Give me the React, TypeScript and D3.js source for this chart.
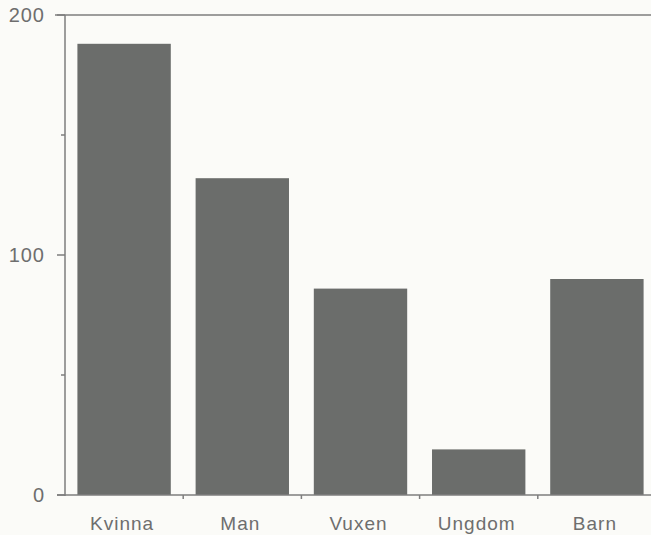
import React from "react";
import * as d3 from "d3";

const categories = ["Kvinna", "Man", "Vuxen", "Ungdom", "Barn"];
const values = [188, 132, 86, 19, 90];
const majorTicks = [0, 100, 200];
const minorTicks = [50, 150];

const W = 651;
const H = 535;
const left = 65;
const top = 15;
const bottom = 495;
const rightEnd = 656;

export default function App() {
  const y = d3.scaleLinear().domain([0, 200]).range([bottom, top]);
  const x = d3
    .scaleBand<string>()
    .domain(categories)
    .range([left, rightEnd])
    .paddingInner(0.21)
    .paddingOuter(0.105);
  const step = x.step();
  const axisColor = "#7e7e7e";
  const textColor = "#6e6e6e";
  const barColor = "#6b6d6b";
  return (
    <svg
      width={W}
      height={H}
      style={{ position: "absolute", left: 0, top: 0, background: "#fbfbf8" }}
      fontFamily="'Liberation Sans', Arial, sans-serif"
    >
      <rect x={0} y={0} width={W} height={H} fill="#fbfbf8" />
      {categories.map((c, i) => (
        <rect
          key={c}
          x={x(c)}
          y={y(values[i])}
          width={x.bandwidth()}
          height={y(0) - y(values[i])}
          fill={barColor}
        />
      ))}
      <line x1={left - 10} x2={W} y1={y(200)} y2={y(200)} stroke={axisColor} strokeWidth={1.5} />
      <line x1={left} x2={left} y1={y(200)} y2={y(0) + 1} stroke={axisColor} strokeWidth={1.5} />
      <line x1={left - 8} x2={W} y1={y(0)} y2={y(0)} stroke={axisColor} strokeWidth={1.5} />
      {majorTicks.map((t) => (
        <g key={t}>
          <line x1={left - 8} x2={left} y1={y(t)} y2={y(t)} stroke={axisColor} strokeWidth={1.5} />
          <text
            x={45}
            y={y(t)}
            dy="0.36em"
            textAnchor="end"
            fontSize={20}
            fill={textColor}
            letterSpacing={1}
          >
            {t}
          </text>
        </g>
      ))}
      {minorTicks.map((t) => (
        <line key={t} x1={left - 4} x2={left} y1={y(t)} y2={y(t)} stroke={axisColor} strokeWidth={1.5} />
      ))}
      {categories.slice(1).map((c) => (
        <line
          key={c}
          x1={(x(c) as number) - step * 0.105}
          x2={(x(c) as number) - step * 0.105}
          y1={y(0)}
          y2={y(0) + 4}
          stroke={axisColor}
          strokeWidth={1.5}
        />
      ))}
      {categories.map((c) => (
        <text
          key={c}
          x={(x(c) as number) + x.bandwidth() / 2 - 2}
          y={530}
          textAnchor="middle"
          fontSize={19}
          fill={textColor}
          letterSpacing={1}
        >
          {c}
        </text>
      ))}
    </svg>
  );
}
